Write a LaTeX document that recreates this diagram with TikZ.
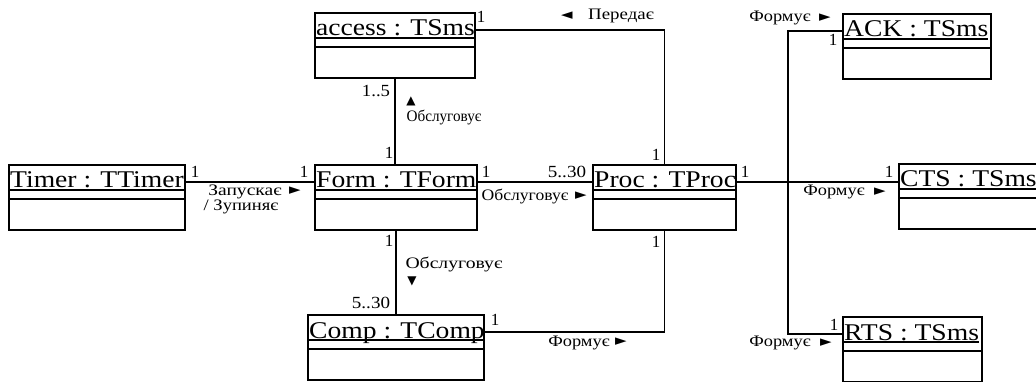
\documentclass[tikz,border=0pt]{standalone}
\usepackage{fontspec}
\setmainfont{Liberation Serif}
\newfontfamily\symf{DejaVu Sans}
\usepackage{graphicx}
\newcommand\ulx[1]{\setbox0\hbox{#1}\rlap{\rule[-3pt]{\wd0}{1.6pt}}\box0}
\newcommand\sx[2]{\scalebox{#1}[1]{#2}}
\newcommand\umlobj[5]{%
  \node[titlebox, minimum width=#4, anchor=north west] (#1) at (#2,#3) {};
  \node[bodybox, minimum width=#4, anchor=north] (#1b) at (#1.south) {};
  \node[ttl] (#1l) at ([xshift=1pt,yshift=-23pt]#1.north west) {\sx{1.15}{\ulx{#5}}};
}
\begin{document}
\begin{tikzpicture}[x=1pt,y=-1pt,
  titlebox/.style={draw, line width=1.3pt, minimum height=34pt, inner sep=0pt, outer sep=0pt},
  bodybox/.style={draw, line width=1.3pt, minimum height=31pt, inner sep=0pt, outer sep=0pt},
  ttl/.style={font=\fontsize{24}{24}\selectfont, inner sep=0pt, anchor=base west},
  lbl/.style={font=\fontsize{16}{16}\selectfont, inner sep=0pt},
  num/.style={font=\fontsize{17}{17}\selectfont, inner sep=0pt},
  sym/.style={font=\symf\fontsize{15}{15}\selectfont, inner sep=0pt},
  vsym/.style={font=\symf\fontsize{12}{12}\selectfont, inner sep=0pt},
  conn/.style={line width=1.3pt}]
\useasboundingbox (0,0) rectangle (1036,382);
\clip (0,0) rectangle (1036,382);

% objects
\umlobj{timer}{9}{165}{176}{Timer : TTimer}
\umlobj{form}{315}{165}{162}{Form : TForm}
\umlobj{proc}{593}{165}{143}{Proc : TProc}
\umlobj{access}{315}{13}{160}{access : TSms}
\umlobj{comp}{308}{315}{176}{Comp : TComp}
\umlobj{ack}{843}{14}{148}{ACK : TSms}
\umlobj{cts}{899}{164}{150}{CTS : TSms}
\umlobj{rts}{843}{317}{139}{RTS : TSms}

% connectors
\draw[conn] (timer.east) -- (form.west);
\draw[conn] (form.east) -- (proc.west);
\draw[conn] (access.east) -| (proc.north);
\draw[conn] (accessb.south) -- (accessb.south |- form.north);
\draw[conn] (formb.south) -- (formb.south |- comp.north);
\draw[conn] (comp.east) -| (procb.south);
\draw[conn] (proc.east) -- (proc.east -| cts.west);
\coordinate (bus) at (788,0);
\draw[conn] (ack.west) -- (ack.west -| bus) -- (rts.west -| bus) -- (rts.west);

% labels
\node[num] (m1) at (481,17) {1};
\node[sym] (a1) at (567,16) {◄};
\node[lbl] (t1) at (621,16) {\sx{1.18}{Передає}};
\node[num] (m2) at (376,91) {\sx{1.1}{1..5}};
\node[vsym] (a2) at (411,101) {▲};
\node[lbl] (t2) at (444,118) {\sx{0.95}{Обслуговує}};
\node[num] (m3) at (389,153) {1};
\node[num] (m4) at (195,172) {1};
\node[num] (m5) at (304,172) {1};
\node[lbl] (t3) at (245,192) {\sx{1.22}{Запускає}};
\node[sym] (a3) at (295,191) {►};
\node[lbl] (t4) at (241,207) {\sx{1.16}{/ Зупиняє}};
\node[num] (m6) at (486,172) {1};
\node[num] (m7) at (567,172) {\sx{1.12}{5..30}};
\node[lbl] (t5) at (525,197) {\sx{1.1}{Обслуговує}};
\node[sym] (a5) at (581,196) {►};
\node[num] (m8) at (656,155) {1};
\node[num] (m9) at (656,242) {1};
\node[num] (m10) at (745,172) {1};
\node[num] (m11) at (389,241) {1};
\node[lbl] (t6) at (454,265) {\sx{1.23}{Обслуговує}};
\node[vsym] (a6) at (412,281) {▼};
\node[num] (m12) at (371,303) {\sx{1.12}{5..30}};
\node[num] (m13) at (495,320) {1};
\node[lbl] (t7) at (579,343) {\sx{1.15}{Формує}};
\node[sym] (a7) at (621,342) {►};
\node[lbl] (t8) at (780,18) {\sx{1.15}{Формує}};
\node[sym] (a8) at (825,18) {►};
\node[num] (m14) at (833,40) {1};
\node[num] (m15) at (889,172) {1};
\node[lbl] (t9) at (834,192) {\sx{1.15}{Формує}};
\node[sym] (a9) at (880,192) {►};
\node[num] (m16) at (834,325) {1};
\node[lbl] (t10) at (780,343) {\sx{1.15}{Формує}};
\node[sym] (a10) at (826,343) {►};
\end{tikzpicture}
\end{document}
